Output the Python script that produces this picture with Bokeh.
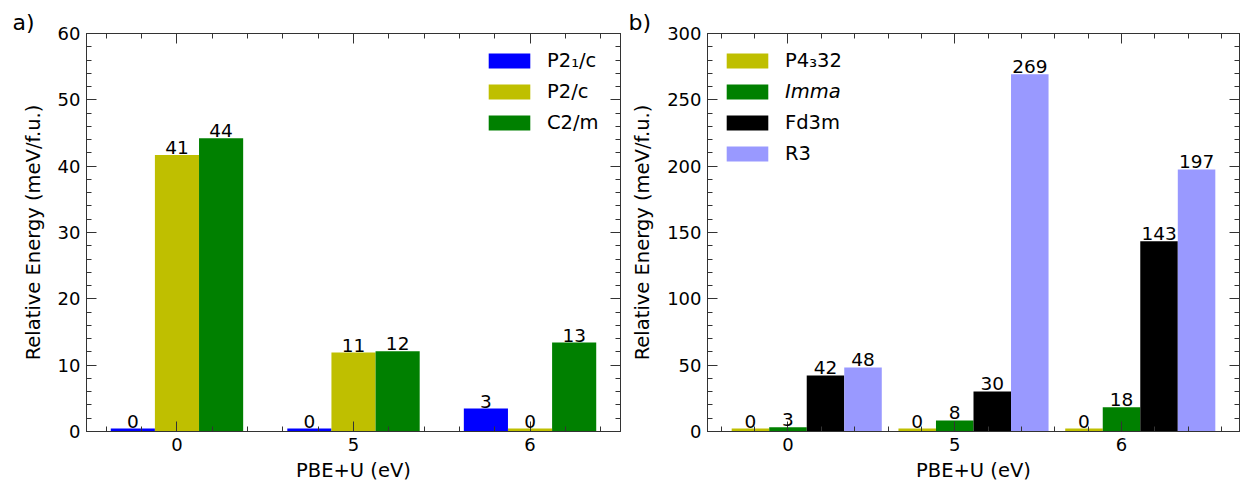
import numpy as np
from bokeh.plotting import figure
from bokeh.models import (ColumnDataSource, FixedTicker, SingleIntervalTicker, LinearAxis,
                          Legend, LegendItem, LabelSet, Range1d, CustomJSTickFormatter)
from bokeh.layouts import row
from bokeh.transform import dodge
from bokeh.core.properties import value
from bokeh.embed import file_html
from bokeh.resources import INLINE

FONT = "DejaVu Sans"
AXIS_COLOR = "#333333"

# Hubbard U values (eV) on the x axis
u_values = ["0", "5", "6"]

# a) relative energies (meV/f.u.)
a_names = ["P2₁/c", "P2/c", "C2/m"]
a_p21c = [0.0, 0.0, 3.45]
a_p2c = [41.7, 11.9, 0.0]
a_c2m = [44.2, 12.1, 13.4]

# b) relative energies (meV/f.u.)
b_names = ["P4₃32", "Imma", "Fd3m", "R3"]
b_p4332 = [0.0, 0.0, 0.0]
b_imma = [3.2, 8.3, 18.2]
b_fd3m = [42.3, 30.2, 143.4]
b_r3 = [48.3, 269.3, 197.5]

FRAME_H = 486 - 33 - 55


def new_figure(x_range, ymax, y_interval, border_left, border_right, letter, letter_dx):
    xt = FixedTicker(ticks=[0, 1, 2],
                     minor_ticks=[i / 5 for i in range(int(np.floor(x_range[0] * 5)) + 1,
                                                       int(np.ceil(x_range[1] * 5))) if i % 5])
    yt = SingleIntervalTicker(interval=y_interval, num_minor_ticks=5)
    p = figure(width=622, height=486, x_range=Range1d(*x_range), y_range=Range1d(0, ymax),
               output_backend="svg", toolbar_location=None, x_axis_type=None, y_axis_type=None,
               min_border_left=border_left, min_border_right=border_right,
               min_border_top=33, min_border_bottom=55, title=letter)
    p.background_fill_color = "white"
    p.border_fill_color = "white"
    p.outline_line_color = AXIS_COLOR
    p.xgrid.visible = False
    p.ygrid.visible = False
    # panel letter sits left of the frame, in the top margin
    p.title.align = "left"
    p.title.offset = letter_dx
    p.title.standoff = -3
    p.title.text_font = FONT
    p.title.text_font_size = "22px"
    p.title.text_font_style = "normal"
    p.title.text_color = "black"

    bottom = LinearAxis(ticker=xt, axis_label="PBE+U (eV)",
                        major_label_overrides={i: u for i, u in enumerate(u_values)})
    left = LinearAxis(ticker=yt, axis_label="Relative Energy (meV/f.u.)")
    top = LinearAxis(ticker=xt, formatter=CustomJSTickFormatter(code="return ''"))
    right = LinearAxis(ticker=yt, formatter=CustomJSTickFormatter(code="return ''"))
    for ax in (bottom, left, top, right):
        ax.axis_line_color = AXIS_COLOR
        ax.axis_line_width = 1
        ax.major_tick_line_color = AXIS_COLOR
        ax.minor_tick_line_color = AXIS_COLOR
        ax.major_tick_in = 10
        ax.major_tick_out = 0
        ax.minor_tick_in = 5
        ax.minor_tick_out = 0
        ax.major_label_text_font = FONT
        ax.major_label_text_font_size = "18px"
        ax.major_label_text_color = "black"
        ax.major_label_standoff = 6
        ax.axis_label_text_font = FONT
        ax.axis_label_text_font_size = "19.5px"
        ax.axis_label_text_font_style = "normal"
        ax.axis_label_text_color = "black"
    for ax in (top, right):
        ax.major_label_text_font_size = "0px"
        ax.major_label_standoff = 0
    left.axis_label_standoff = 10
    bottom.axis_label_standoff = 5
    p.add_layout(bottom, "below")
    p.add_layout(left, "left")
    p.add_layout(top, "above")
    p.add_layout(right, "right")
    return p


def panel(names, series, colors, offsets, width, ymax, y_interval, x_range, letter,
          border_left, border_right, legend_x, letter_dx, italic=()):
    p = new_figure(x_range, ymax, y_interval, border_left, border_right, letter, letter_dx)
    floor = ymax * 0.0075  # keeps zero-energy bars visible
    data = {"idx": list(range(len(u_values)))}
    for k, vals in enumerate(series):
        v = np.asarray(vals, dtype=float)
        data[f"v{k}"] = v
        data[f"h{k}"] = np.maximum(v, floor)
        data[f"t{k}"] = [str(int(x)) for x in v]
    src = ColumnDataSource(data)

    for k, (name, color, off) in enumerate(zip(names, colors, offsets)):
        r = p.vbar(x=dodge("idx", off), top=f"h{k}", width=width, bottom=0,
                   source=src, fill_color=color, line_color=None)
        p.add_layout(LabelSet(x=dodge("idx", off), y=f"h{k}", text=f"t{k}", source=src,
                              text_align="center", text_baseline="alphabetic", y_offset=1,
                              text_font=value(FONT), text_font_size=value("18.5px"),
                              text_color="black"))
        # one legend per entry so each label can carry its own font style;
        # rows 31 px apart, first swatch 22 px below the frame top
        leg = Legend(items=[LegendItem(label=name, renderers=[r])],
                     location=(legend_x, FRAME_H - 20 - 31 * k - 19),
                     orientation="vertical",
                     glyph_width=52, glyph_height=19, label_height=19,
                     label_standoff=12, padding=0, margin=0, spacing=0,
                     border_line_color=None, background_fill_alpha=0,
                     label_text_font=FONT, label_text_font_size="19.5px",
                     label_text_font_style="italic" if name in italic else "normal",
                     label_text_color="black", label_text_baseline="middle")
        p.add_layout(leg)
    return p


pa = panel(a_names, [a_p21c, a_p2c, a_c2m], ["#0000ff", "#bfbf00", "#008000"],
           [-0.25, 0.0, 0.25], 0.25, 60, 10, (-0.5125, 2.5125), "a)", 86, 2, 397, -74)
pb = panel(b_names, [b_p4332, b_imma, b_fd3m, b_r3],
           ["#bfbf00", "#008000", "#000000", "#9999ff"],
           [-0.225, 0.0, 0.225, 0.45], 0.225, 300, 50, (-0.4825, 2.7075), "b)", 85, 5, 14, -79,
           italic=("Imma",))

layout = row(pa, pb)
open("out.html", "w").write(file_html(layout, INLINE))
